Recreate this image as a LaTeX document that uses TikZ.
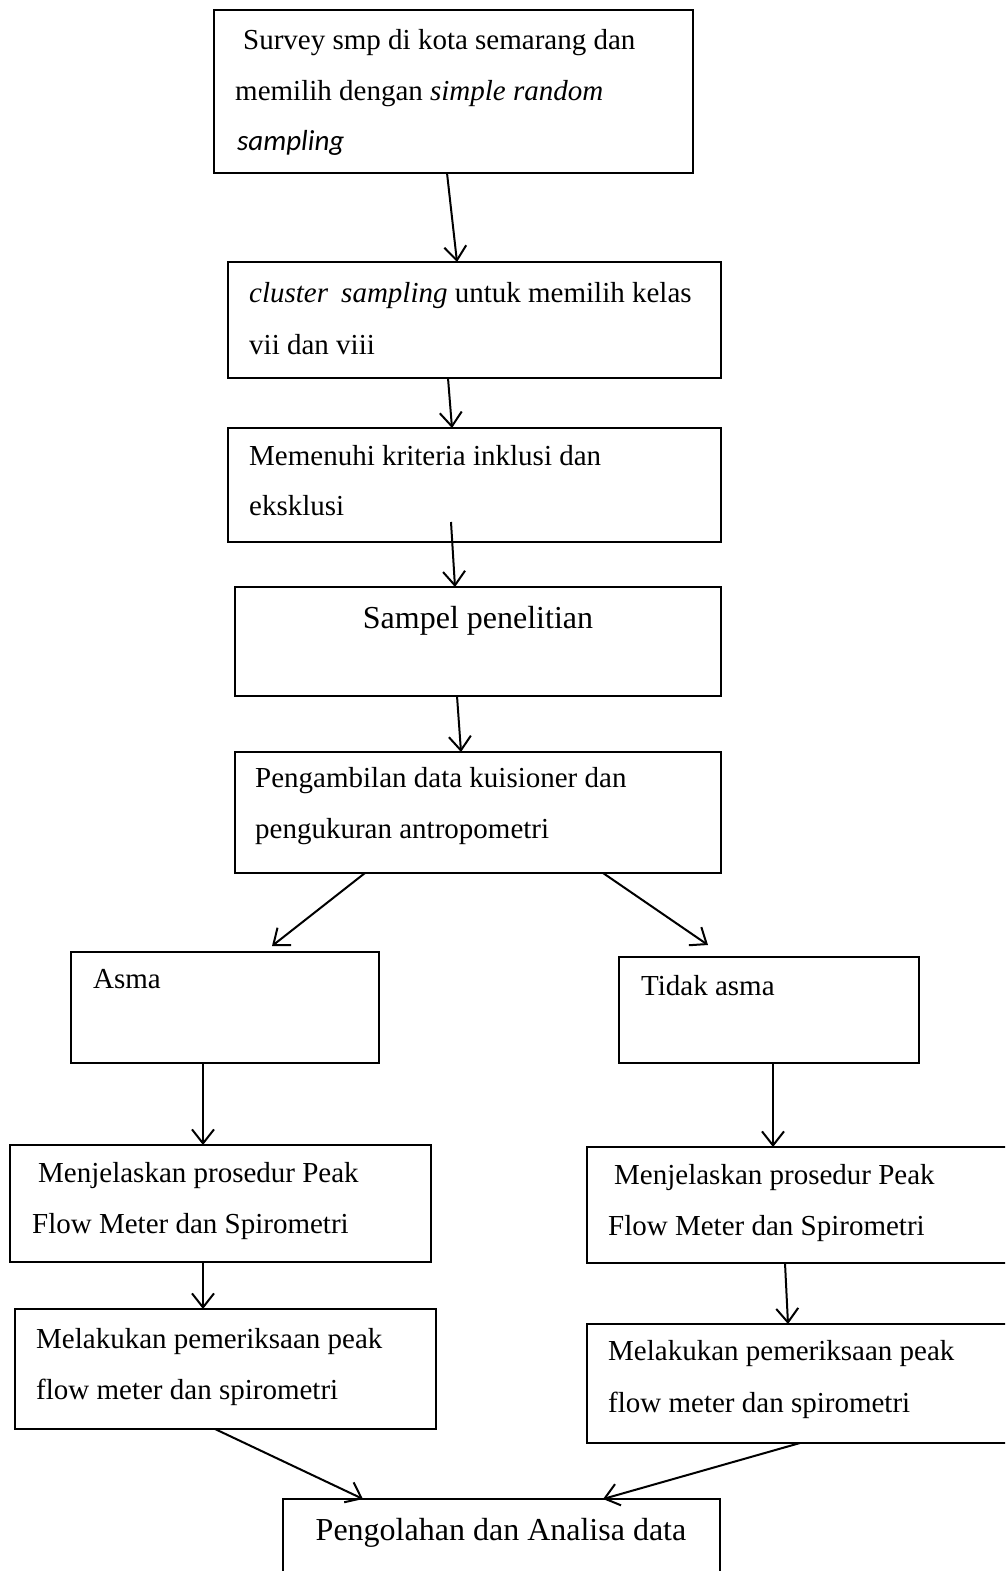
\documentclass[tikz,border=0pt]{standalone}
\usepackage{fontspec}
\setmainfont{Liberation Serif}[ItalicFont={Liberation Serif Italic}, BoldFont={Liberation Serif Bold}]
\newfontfamily\calfont{Carlito}[ItalicFont={Carlito Italic}]
\usetikzlibrary{arrows.meta}
\begin{document}
\begin{tikzpicture}[x=1pt,y=-1pt,
  box/.style={draw, line width=1.8pt, rectangle, inner sep=0pt, outer sep=0pt, anchor=north west},
  txt/.style={inner sep=0pt, anchor=base west, font=\fontsize{29}{50}\selectfont},
  big/.style={inner sep=0pt, anchor=base, font=\fontsize{32}{50}\selectfont},
  arr/.style={line width=2pt, -{Straight Barb[length=14pt,width=22pt]}}]
\useasboundingbox (0,0) rectangle (1005,1571);
\fill[white] (0,0) rectangle (1005,1571);
\clip (0,0) rectangle (1005,1571);
% boxes
\node[box, minimum width=479pt, minimum height=163pt] (b1) at (214,10) {};
\node[box, minimum width=493pt, minimum height=116pt] (b2) at (228,262) {};
\node[box, minimum width=493pt, minimum height=114pt] (b3) at (228,428) {};
\node[box, minimum width=486pt, minimum height=109pt] (b4) at (235,587) {};
\node[box, minimum width=486pt, minimum height=121pt] (b5) at (235,752) {};
\node[box, minimum width=308pt, minimum height=111pt] (b6) at (71,952) {};
\node[box, minimum width=300pt, minimum height=106pt] (b7) at (619,957) {};
\node[box, minimum width=421pt, minimum height=117pt] (b8) at (10,1145) {};
\node[box, minimum width=425pt, minimum height=116pt] (b9) at (587,1147) {};
\node[box, minimum width=421pt, minimum height=120pt] (b10) at (15,1309) {};
\node[box, minimum width=425pt, minimum height=119pt] (b11) at (587,1324) {};
\node[box, minimum width=437pt, minimum height=95pt] (b12) at (283,1499) {};
% texts
\node[txt] (t1a) at (243,50) {Survey smp di kota semarang dan};
\node[txt] (t1b) at (235,100) {memilih dengan \textit{simple random}};
\node[txt] (t1c) at (237,150) {\calfont\itshape sampling};
\node[txt] (t2a) at (249,302) {\textit{cluster}\hspace{0.45em}\textit{sampling} untuk memilih kelas};
\node[txt] (t2b) at (249,354) {vii dan viii};
\node[txt] (t3a) at (249,465) {Memenuhi kriteria inklusi dan};
\node[txt] (t3b) at (249,515) {eksklusi};
\node[big] (t4) at (478,628) {Sampel penelitian};
\node[txt] (t5a) at (255,787) {Pengambilan data kuisioner dan};
\node[txt] (t5b) at (255,838) {pengukuran antropometri};
\node[txt] (t6) at (93,988) {Asma};
\node[txt] (t7) at (641,995) {Tidak asma};
\node[txt] (t8a) at (38,1182) {Menjelaskan prosedur Peak};
\node[txt] (t8b) at (32,1233) {Flow Meter dan Spirometri};
\node[txt] (t9a) at (614,1184) {Menjelaskan prosedur Peak};
\node[txt] (t9b) at (608,1235) {Flow Meter dan Spirometri};
\node[txt] (t10a) at (36,1348) {Melakukan pemeriksaan peak};
\node[txt] (t10b) at (36,1399) {flow meter dan spirometri};
\node[txt] (t11a) at (608,1360) {Melakukan pemeriksaan peak};
\node[txt] (t11b) at (608,1412) {flow meter dan spirometri};
\node[big] (t12) at (501,1540) {Pengolahan dan Analisa data};
% arrows
\draw[arr] ([xshift=233pt]b1.south west) -- ([xshift=229pt]b2.north west);
\draw[arr] ([xshift=220pt]b2.south west) -- ([xshift=224pt]b3.north west);
\draw[arr] ([xshift=223pt,yshift=20pt]b3.south west) -- ([xshift=220pt]b4.north west);
\draw[arr] ([xshift=222pt]b4.south west) -- ([xshift=226pt]b5.north west);
\draw[arr] ([xshift=130pt]b5.south west) -- ([xshift=201pt,yshift=6pt]b6.north west);
\draw[arr] ([xshift=368pt]b5.south west) -- ([xshift=89pt,yshift=12pt]b7.north west);
\draw[arr] ([xshift=132pt]b6.south west) -- ([xshift=193pt]b8.north west);
\draw[arr] ([xshift=154pt]b7.south west) -- ([xshift=186pt]b9.north west);
\draw[arr] ([xshift=193pt]b8.south west) -- ([xshift=188pt]b10.north west);
\draw[arr] ([xshift=198pt]b9.south west) -- ([xshift=201pt]b11.north west);
\draw[arr] ([xshift=200pt]b10.south west) -- ([xshift=80pt]b12.north west);
\draw[arr] ([xshift=213pt]b11.south west) -- ([xshift=320pt]b12.north west);
\end{tikzpicture}
\end{document}
